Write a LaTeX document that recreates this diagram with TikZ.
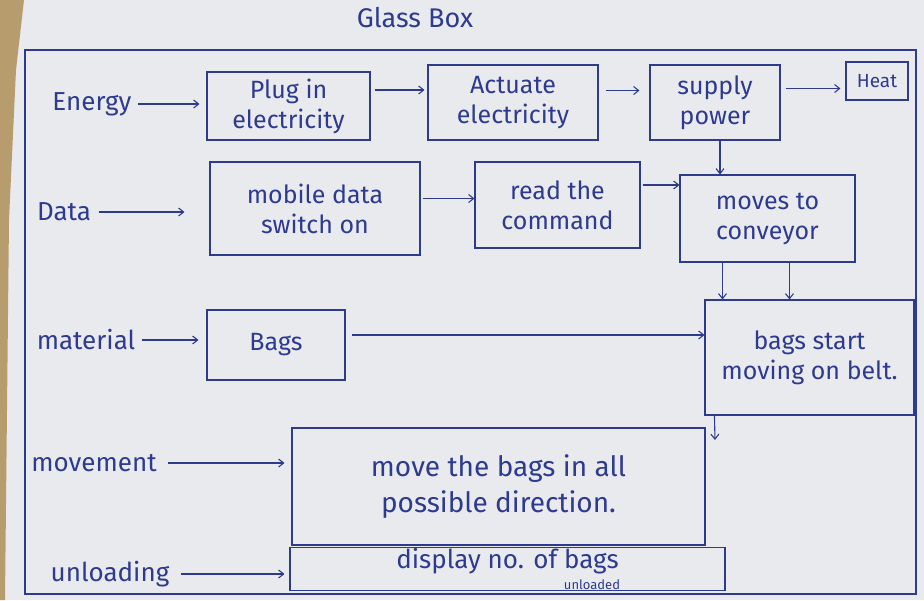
\documentclass[tikz,border=0pt]{standalone}
\usepackage{fontspec}
\setmainfont{Fira Sans}
\usetikzlibrary{arrows.meta}
\definecolor{ink}{HTML}{2E3A8E}
\definecolor{paper}{HTML}{E9EAEE}
\definecolor{wood}{HTML}{B79C6E}
\tikzset{
  stepbox/.style={draw=ink, line width=1.1pt, text=ink, align=center, inner sep=2pt, font=\fontsize{25}{30}\selectfont},
  lbl/.style={text=ink, font=\fontsize{26}{30}\selectfont},
  flow/.style={draw=ink, line width=1.1pt, -{Straight Barb[length=5pt,width=8pt]}},
}
\begin{document}
\begin{tikzpicture}[x=1pt,y=-1pt]
\useasboundingbox (0,0) rectangle (924,600);
\fill[paper] (0,0) rectangle (924,600);
\fill[wood] (0,0) -- (24,0) -- (16,70) -- (9,220) -- (5,600) -- (0,600) -- cycle;
\node[text=ink, font=\fontsize{27}{30}\selectfont] (title) at (415,18) {Glass Box};
\draw[ink, line width=1.1pt] (25,50) rectangle (916,594);
% boxes
\node[stepbox, minimum width=163pt, minimum height=68pt] (plug) at (288.5,106) {Plug in\\electricity};
\node[stepbox, minimum width=170pt, minimum height=75pt] (act) at (513,102.5) {Actuate\\electricity};
\node[stepbox, minimum width=130pt, minimum height=75pt] (sup) at (715,102.5) {supply\\power};
\node[stepbox, minimum width=62pt, minimum height=38pt, font=\fontsize{19}{22}\selectfont] (heat) at (877,81) {Heat};
\node[stepbox, minimum width=210pt, minimum height=93pt] (mob) at (315,208.5) {mobile data\\switch on};
\node[stepbox, minimum width=165pt, minimum height=86pt] (read) at (557.5,205) {read the\\command};
\node[stepbox, minimum width=175pt, minimum height=87pt] (conv) at (767.5,218.5) {moves to\\conveyor};
\node[stepbox, minimum width=138pt, minimum height=70pt] (bags) at (276,345) {Bags};
\node[stepbox, minimum width=209pt, minimum height=115pt] (belt) at (809.5,357.5) {bags start\\moving on belt.};
\node[stepbox, minimum width=413pt, minimum height=117pt, font=\fontsize{28}{36}\selectfont] (move) at (498.5,486.5) {move the bags in all\\possible direction.};
\node[stepbox, minimum width=435pt, minimum height=42pt, inner sep=1pt, font=\fontsize{26}{26}\selectfont] (disp) at (507.5,569) {display no. of bags\\[-5pt]{\hspace*{6.5em}\fontsize{13}{13}\selectfont unloaded}};
% labels
\node[lbl] (en) at (92,104) {Energy};
\node[lbl] (da) at (64,212) {Data};
\node[lbl] (ma) at (86,340) {material};
\node[lbl] (mv) at (94,463) {movement};
\node[lbl] (un) at (110,574) {unloading};
\coordinate (mvin) at (715,440);
% connectors
\draw[flow, shorten >=7pt, shorten <=3pt] (en.east) -- (en.east -| plug.west);
\draw[flow, shorten >=25pt, shorten <=4pt] (da.east) -- (da.east -| mob.west);
\draw[flow, shorten >=8pt, shorten <=3pt] (ma.east) -- (ma.east -| bags.west);
\draw[flow, shorten >=7pt, shorten <=8pt] (mv.east) -- (mv.east -| move.west);
\draw[flow, shorten >=5pt, shorten <=8pt] (un.east) -- (un.east -| disp.west);
\draw[flow, shorten >=3pt, shorten <=4pt] ([yshift=16pt]plug.east) -- ([yshift=16pt]plug.east -| act.west);
\draw[flow, shorten >=10pt, shorten <=7pt] ([yshift=12pt]act.east) -- ([yshift=12pt]act.east -| sup.west);
\draw[flow, shorten >=5pt, shorten <=5pt] ([yshift=14pt]sup.east) -- ([yshift=14pt]sup.east -| heat.west);
\draw[flow] ([xshift=5pt]sup.south) -- ([xshift=5pt]sup.south |- conv.north);
\draw[flow, shorten <=2pt] ([yshift=20pt]read.east) -- ([yshift=20pt]read.east -| conv.west);
\draw[flow, shorten <=2pt] ([yshift=10pt]mob.east) -- ([yshift=10pt]mob.east -| read.west);
\draw[flow] ([xshift=-45pt]conv.south) -- ([xshift=-45pt]conv.south |- belt.north);
\draw[flow] ([xshift=22pt]conv.south) -- ([xshift=22pt]conv.south |- belt.north);
\draw[flow, shorten <=6pt] ([yshift=10pt]bags.east) -- ([yshift=10pt]bags.east -| belt.west);
\draw[flow] ([xshift=10pt]belt.south west) -- (mvin);
\end{tikzpicture}
\end{document}
